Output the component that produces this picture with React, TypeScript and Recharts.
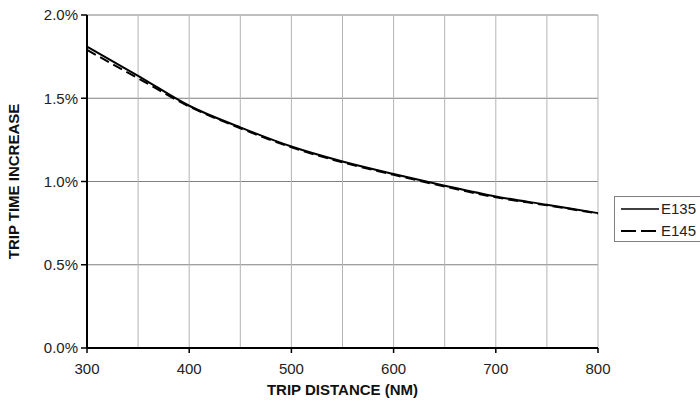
import { CartesianGrid, Line, LineChart, XAxis, YAxis } from 'recharts'

// trip distance (NM) and trip time increase (%)
const distances = [300, 350, 400, 450, 500, 550, 600, 650, 700, 750, 800]
const e135 = [1.81, 1.635, 1.455, 1.325, 1.21, 1.12, 1.045, 0.975, 0.91, 0.86, 0.81]
const e145 = [1.79, 1.62, 1.45, 1.32, 1.205, 1.115, 1.04, 0.97, 0.905, 0.857, 0.808]

const xTicks = [300, 350, 400, 450, 500, 550, 600, 650, 700, 750, 800]
const yTicks = [0, 0.5, 1, 1.5, 2]

const data = distances.map((d, i) => ({ dist: d, e135: e135[i], e145: e145[i] }))

const font = '"Liberation Sans", Arial, sans-serif'

const XTick = (props: any) => {
    const { x, y, payload } = props
    if (payload.value % 100 !== 0) return null
    return (
        <g>
            <line x1={x} x2={x} y1={y - 5} y2={y} stroke="#000" strokeWidth={1.5} />
            <text x={x} y={y} dy={21} textAnchor="middle" fontSize={15} fill="#222" fontFamily={font}>
                {payload.value}
            </text>
        </g>
    )
}

// legend drawn as a plain overlay so the chart keeps its full plot height
const LegendBox = () => (
    <div
        style={{
            position: 'absolute',
            left: 614,
            top: 196,
            border: '1px solid #808080',
            background: '#fff',
            width: 90,
            height: 44,
        }}
    >
        <svg width={90} height={44} style={{ display: 'block' }}>
            <line x1={6} x2={44} y1={12} y2={12} stroke="#000" strokeWidth={1.5} />
            <text x={46} y={17} fontSize={15} fill="#222" fontFamily={font}>E135</text>
            <line x1={6} x2={44} y1={34} y2={34} stroke="#000" strokeWidth={2} strokeDasharray="15 5" />
            <text x={46} y={39} fontSize={15} fill="#222" fontFamily={font}>E145</text>
        </svg>
    </div>
)

export default function App() {
    return (
        <div style={{ position: 'absolute', left: 0, top: 0, width: 700, height: 405, overflow: 'hidden' }}>
            <LineChart
                width={700}
                height={405}
                data={data}
                margin={{ top: 15, right: 102, left: 0, bottom: 0 }}
                style={{ fontFamily: font }}
            >
                <CartesianGrid vertical={false} stroke="#808080" strokeWidth={1} />
                <CartesianGrid horizontal={false} stroke="#b4b4b4" strokeWidth={1} />
                <XAxis
                    dataKey="dist"
                    type="number"
                    domain={[300, 800]}
                    ticks={xTicks}
                    interval={0}
                    tick={<XTick />}
                    tickLine={false}
                    tickSize={5}
                    tickMargin={0}
                    height={57}
                    axisLine={{ stroke: '#000', strokeWidth: 2 }}
                    label={{
                        value: 'TRIP DISTANCE (NM)',
                        position: 'insideBottom',
                        offset: 10,
                        fontSize: 15,
                        fontWeight: 'bold',
                        fill: '#111',
                    }}
                />
                <YAxis
                    type="number"
                    domain={[0, 2]}
                    ticks={yTicks}
                    interval={0}
                    width={87}
                    tickFormatter={(v: number) => v.toFixed(1) + '%'}
                    tick={{ fontSize: 15, fill: '#222' }}
                    tickLine={{ stroke: '#000', strokeWidth: 1.5 }}
                    tickSize={6}
                    tickMargin={3}
                    axisLine={{ stroke: '#000', strokeWidth: 2 }}
                    label={{
                        value: 'TRIP TIME INCREASE',
                        angle: -90,
                        position: 'insideLeft',
                        offset: 14,
                        fontSize: 15,
                        fontWeight: 'bold',
                        fill: '#111',
                        style: { textAnchor: 'middle' },
                    }}
                />
                <Line
                    type="monotone"
                    dataKey="e135"
                    stroke="#000"
                    strokeWidth={2}
                    dot={false}
                    isAnimationActive={false}
                />
                <Line
                    type="monotone"
                    dataKey="e145"
                    stroke="#000"
                    strokeWidth={2}
                    strokeDasharray="10 5"
                    dot={false}
                    isAnimationActive={false}
                />
            </LineChart>
            <LegendBox />
        </div>
    )
}
